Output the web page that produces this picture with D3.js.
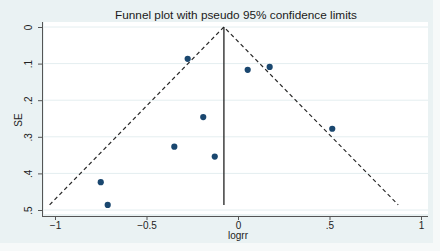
<!DOCTYPE html>
<html>
<head>
<meta charset="utf-8">
<script src="https://cdn.jsdelivr.net/npm/d3@7"></script>
<style>
  body { margin: 0; background: #f6f9f9; }
  svg { display: block; font-family: "Liberation Sans", Arial, sans-serif; }
  .axis text { fill: #222; font-size: 10px; }
  .axis path, .axis line { stroke: #555; }
</style>
</head>
<body>
<div class="interactive-wrapper"></div>
<script>
// study estimates
const logrr = [-0.275, -0.19, -0.348, -0.127, -0.75, -0.712, 0.053, 0.173, 0.515];
const se    = [0.087, 0.246, 0.327, 0.354, 0.424, 0.486, 0.117, 0.109, 0.278];
const pooled = -0.077;
const xTicks = [-1, -0.5, 0, 0.5, 1];
const yTicks = [0, 0.1, 0.2, 0.3, 0.4, 0.5];

const w = 440, h = 251;
const plot = {left: 44, right: 428, top: 22, bottom: 214};

const fmt = d => d === 0 ? "0" : d3.format("")(d).replace(/^(-?)0\./, "$1.");

const xScale = d3.scaleLinear().domain([-1, 1]).range([55, 421]);
const yScale = d3.scaleLinear().domain([0, 0.5]).range([27, 210]);

const svg = d3.select(".interactive-wrapper").append("svg")
  .attr("width", w)
  .attr("height", h);

svg.append("rect")
  .attr("width", w).attr("height", h)
  .attr("fill", "#f6f9f9");

svg.append("rect")
  .attr("width", 433).attr("height", 243)
  .attr("fill", "#eaf2f3");

svg.append("rect")
  .attr("x", plot.left).attr("y", plot.top)
  .attr("width", plot.right - plot.left)
  .attr("height", plot.bottom - plot.top)
  .attr("fill", "#fff");

// gridlines
svg.append("g")
  .selectAll("line")
  .data(yTicks)
  .enter().append("line")
  .attr("x1", plot.left).attr("x2", plot.right)
  .attr("y1", d => yScale(d)).attr("y2", d => yScale(d))
  .attr("stroke", "#e4eef0")
  .attr("stroke-width", 1);

svg.append("text")
  .text("Funnel plot with pseudo 95% confidence limits")
  .attr("x", 236).attr("y", 19)
  .attr("text-anchor", "middle")
  .attr("font-size", "11.8px")
  .attr("fill", "#1a1a1a");

let xaxis = svg.append("g")
  .attr("class", "x axis")
  .attr("transform", "translate(0,216)")
  .call(d3.axisBottom(xScale).tickValues(xTicks).tickSizeOuter(0).tickSize(4).tickFormat(fmt));
xaxis.select(".domain").attr("d", "M" + 42 + ",0.5H" + plot.right);
xaxis.selectAll("text").attr("y", 6);

let yaxis = svg.append("g")
  .attr("class", "y axis")
  .attr("transform", "translate(42,0)")
  .call(d3.axisLeft(yScale).tickValues(yTicks).tickSizeOuter(0).tickSize(4).tickFormat(fmt));
yaxis.select(".domain").attr("d", "M0.5," + plot.top + "V216");
yaxis.selectAll("text")
  .attr("x", null).attr("dy", null)
  .attr("text-anchor", "middle")
  .attr("transform", "translate(-10,0) rotate(-90)");

svg.append("text")
  .text("logrr")
  .attr("x", 238).attr("y", 239)
  .attr("text-anchor", "middle")
  .attr("font-size", "10px")
  .attr("fill", "#222");

svg.append("text")
  .text("SE")
  .attr("transform", "translate(22,120) rotate(-90)")
  .attr("text-anchor", "middle")
  .attr("font-size", "10px")
  .attr("fill", "#222");

// funnel
const maxSE = d3.max(se);
const limits = [
  [[pooled - 1.96 * maxSE, maxSE], [pooled, 0], [pooled + 1.96 * maxSE, maxSE]]
];
const line = d3.line().x(d => xScale(d[0])).y(d => yScale(d[1]));

svg.append("path")
  .datum(limits[0])
  .attr("d", line)
  .attr("fill", "none")
  .attr("stroke", "#2a2a2a")
  .attr("stroke-width", 1.2)
  .attr("stroke-dasharray", "4,3");

svg.append("path")
  .datum([[pooled, 0], [pooled, maxSE]])
  .attr("d", line)
  .attr("fill", "none")
  .attr("stroke", "#222")
  .attr("stroke-width", 1.3);

svg.selectAll(".dot")
  .data(logrr.map((d, i) => ({x: d, y: se[i]})))
  .enter().append("circle")
  .attr("class", "dot")
  .attr("cx", d => xScale(d.x))
  .attr("cy", d => yScale(d.y))
  .attr("r", 3.1)
  .attr("fill", "#1a476f");
</script>
</body>
</html>
